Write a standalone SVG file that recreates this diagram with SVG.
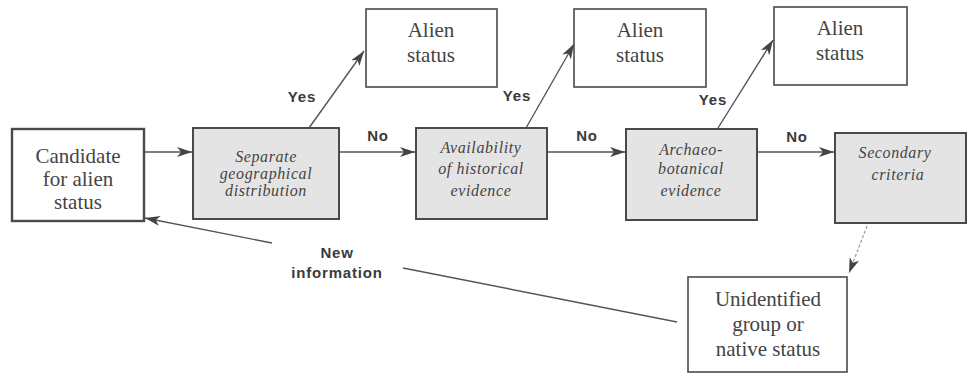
<svg xmlns="http://www.w3.org/2000/svg" width="968" height="373" viewBox="0 0 968 373">
<style>
.box{fill:#fff;stroke:#4a4a4a;stroke-width:1.6}
.gbox{fill:#e4e4e4;stroke:#4a4a4a;stroke-width:2}
.t{font-family:"Liberation Serif","Times New Roman",serif;font-size:21px;fill:#444;text-anchor:middle}
.ti{font-family:"Liberation Serif","Times New Roman",serif;font-size:16px;font-style:italic;fill:#444;text-anchor:middle;letter-spacing:0.6px}
.lb{font-family:"Liberation Sans",Arial,sans-serif;font-size:15px;font-weight:bold;fill:#3a3a3a;text-anchor:middle;letter-spacing:0.8px}
.c{stroke:#555;stroke-width:1.4;fill:none}
.d{stroke:#999;stroke-width:1.2;fill:none;stroke-dasharray:3 2}
</style>
<defs>
<marker id="ah" markerUnits="userSpaceOnUse" markerWidth="18" markerHeight="12" refX="15" refY="6" orient="auto">
<path d="M0,1 L15,6 L0,11 L4,6 Z" fill="#444"/>
</marker>
</defs>
<rect width="968" height="373" fill="#fff"/>
<g id="connectors">
<line class="c" x1="144" y1="152" x2="192" y2="152" marker-end="url(#ah)"/>
<line class="c" x1="309" y1="128" x2="364" y2="51" marker-end="url(#ah)"/>
<line class="c" x1="339" y1="152" x2="415" y2="152" marker-end="url(#ah)"/>
<line class="c" x1="526" y1="128" x2="574" y2="44" marker-end="url(#ah)"/>
<line class="c" x1="547" y1="152" x2="625" y2="152" marker-end="url(#ah)"/>
<line class="c" x1="718" y1="128" x2="773" y2="40" marker-end="url(#ah)"/>
<line class="c" x1="757" y1="152" x2="834" y2="152" marker-end="url(#ah)"/>
<line class="d" x1="867" y1="226" x2="849" y2="273" marker-end="url(#ah)"/>
<line class="c" x1="677" y1="322" x2="403" y2="268"/>
<line class="c" x1="272" y1="243" x2="145" y2="218" marker-end="url(#ah)"/>
<text class="lb" x="302" y="102">Yes</text>
<text class="lb" x="517" y="101">Yes</text>
<text class="lb" x="713" y="105">Yes</text>
<text class="lb" x="378" y="141">No</text>
<text class="lb" x="587" y="141">No</text>
<text class="lb" x="797" y="142">No</text>
<text class="lb" x="337" y="258">New</text>
<text class="lb" x="337" y="278">information</text>
</g>
<g id="candidate">
<rect class="box" x="12" y="129" width="132" height="92" style="stroke-width:2.4"/>
<text class="t" x="78" y="163">Candidate</text>
<text class="t" x="78" y="186">for alien</text>
<text class="t" x="78" y="209">status</text>
</g>
<g id="separate">
<rect class="gbox" x="193" y="128" width="146" height="91"/>
<text class="ti" x="266" y="162">Separate</text>
<text class="ti" x="266" y="179">geographical</text>
<text class="ti" x="266" y="196">distribution</text>
</g>
<g id="alien1">
<rect class="box" x="366" y="9" width="131" height="78"/>
<text class="t" x="431" y="37">Alien</text>
<text class="t" x="431" y="62">status</text>
</g>
<g id="availability">
<rect class="gbox" x="416" y="128" width="131" height="91"/>
<text class="ti" x="481" y="153">Availability</text>
<text class="ti" x="481" y="174">of historical</text>
<text class="ti" x="481" y="196">evidence</text>
</g>
<g id="alien2">
<rect class="box" x="574" y="9" width="132" height="78"/>
<text class="t" x="640" y="37">Alien</text>
<text class="t" x="640" y="62">status</text>
</g>
<g id="archaeo">
<rect class="gbox" x="626" y="129" width="131" height="91"/>
<text class="ti" x="691" y="155">Archaeo-</text>
<text class="ti" x="691" y="174">botanical</text>
<text class="ti" x="691" y="196">evidence</text>
</g>
<g id="alien3">
<rect class="box" x="774" y="7" width="133" height="78"/>
<text class="t" x="840" y="35">Alien</text>
<text class="t" x="840" y="60">status</text>
</g>
<g id="secondary">
<rect class="gbox" x="835" y="133" width="131" height="90"/>
<text class="ti" x="895" y="158">Secondary</text>
<text class="ti" x="898" y="180">criteria</text>
</g>
<g id="unidentified">
<rect class="box" x="688" y="277" width="159" height="95"/>
<text class="t" x="768" y="306">Unidentified</text>
<text class="t" x="768" y="331">group or</text>
<text class="t" x="768" y="356">native status</text>
</g>
</svg>
